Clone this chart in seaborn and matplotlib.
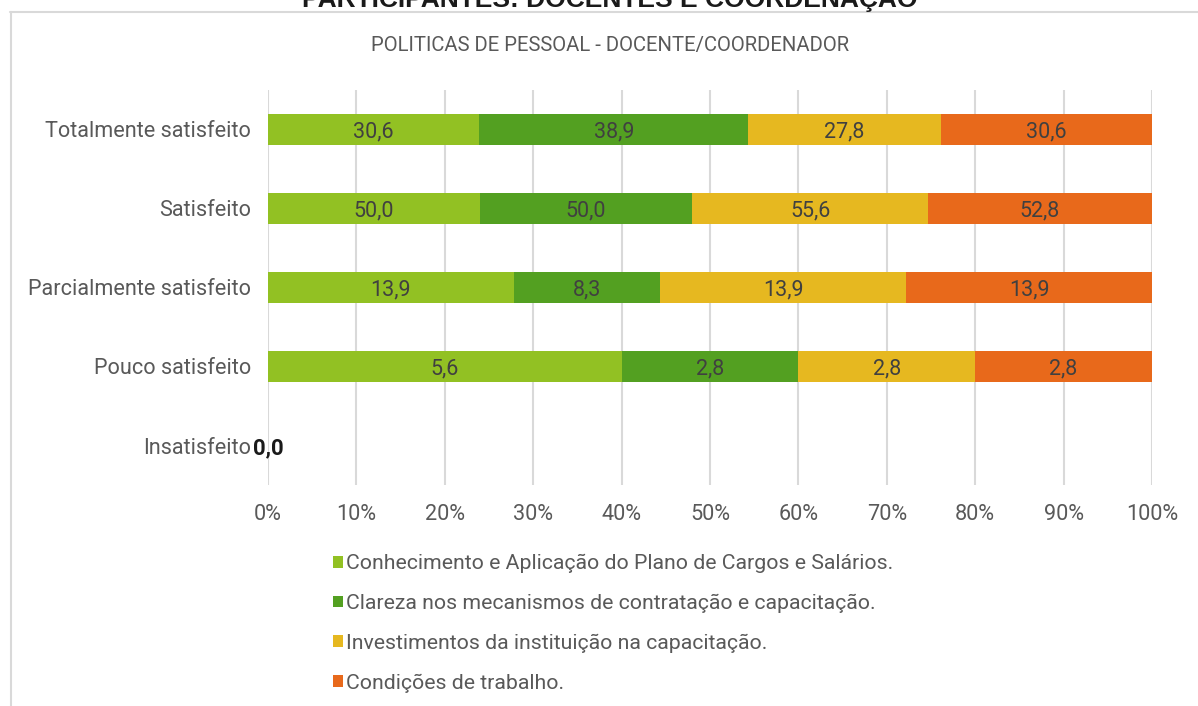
import numpy as np
import pandas as pd
import matplotlib
matplotlib.use("Agg")
import matplotlib.pyplot as plt
from matplotlib.patches import Patch
from matplotlib.lines import Line2D
import seaborn as sns

# dados
categorias = ["Totalmente satisfeito", "Satisfeito", "Parcialmente satisfeito",
              "Pouco satisfeito", "Insatisfeito"]
series = ["Conhecimento e Aplicação do Plano de Cargos e Salários.",
          "Clareza nos mecanismos de contratação e capacitação.",
          "Investimentos da instituição na capacitação.",
          "Condições de trabalho."]
plano_cargos = [30.6, 50.0, 13.9, 5.6, 0.0]
clareza = [38.9, 50.0, 8.3, 2.8, 0.0]
investimentos = [27.8, 55.6, 13.9, 2.8, 0.0]
condicoes = [30.6, 52.8, 13.9, 2.8, 0.0]
cores = ["#92C123", "#53A021", "#E6B820", "#E8691B"]

sns.set_style("white")
plt.rcParams["font.family"] = ["Roboto", "DejaVu Sans"]

df = pd.DataFrame({series[0]: plano_cargos, series[1]: clareza,
                   series[2]: investimentos, series[3]: condicoes},
                  index=categorias)
total = df.sum(axis=1).replace(0, np.nan)
pct = df.div(total, axis=0).fillna(0) * 100
cum = pct.cumsum(axis=1)

fig = plt.figure(figsize=(11.98, 7.06), dpi=100)
ax = fig.add_axes([268 / 1198, 1 - 485 / 706, (1152 - 268) / 1198, (485 - 90) / 706])

# barras empilhadas: desenha os acumulados do maior para o menor
for i in range(len(series) - 1, -1, -1):
    plot_df = pd.DataFrame({"cat": categorias, "val": cum.iloc[:, i].values})
    sns.barplot(data=plot_df, x="val", y="cat", orient="h", color=cores[i],
                width=0.4, saturation=1, linewidth=0, ax=ax, zorder=3)

# rótulos dos valores
for j, cat in enumerate(categorias):
    for i, s in enumerate(series):
        w = pct.loc[cat, s]
        if w <= 0:
            continue
        centro = cum.loc[cat, s] - w / 2
        ax.text(centro, j, f"{df.loc[cat, s]:.1f}".replace(".", ","),
                ha="center", va="center_baseline", fontsize=15.5, color="#404040", zorder=4)
ax.text(0, 4, "0,0", ha="center", va="center_baseline", fontsize=16, fontweight="bold",
        color="#1a1a1a", zorder=4)

ax.set_xlim(0, 100)
ax.set_ylim(4.5, -0.5)
ax.set_xticks(np.arange(0, 101, 10))
ax.set_xticklabels([f"{v}%" for v in range(0, 101, 10)])
ax.set_xlabel("")
ax.set_ylabel("")
ax.grid(axis="x", color="#D9D9D9", linewidth=1.5, zorder=0)
ax.grid(axis="y", visible=False)
for sp in ax.spines.values():
    sp.set_visible(False)
ax.tick_params(axis="both", length=0, labelsize=15.6, colors="#595959")
ax.tick_params(axis="x", pad=14)
ax.tick_params(axis="y", pad=12)

# títulos
fig.text(610 / 1198, 1 - 7 / 706, "PARTICIPANTES: DOCENTES E COORDENAÇÃO",
         ha="center", va="baseline", fontsize=19, fontweight="bold",
         family=["Liberation Sans", "DejaVu Sans"], color="#1a1a1a")
fig.text(610 / 1198, 1 - 46 / 706, "POLITICAS DE PESSOAL - DOCENTE/COORDENADOR",
         ha="center", va="center", fontsize=14.6, color="#595959")

# moldura do gráfico
fig.add_artist(Line2D([10.5 / 1198, 10.5 / 1198], [0, 1 - 12 / 706],
                      transform=fig.transFigure, color="#D9D9D9", linewidth=1.5))
fig.add_artist(Line2D([10 / 1198, 1], [1 - 12 / 706, 1 - 12 / 706],
                      transform=fig.transFigure, color="#D9D9D9", linewidth=1.5))

handles = [Patch(facecolor=c, edgecolor="none") for c in cores]
fig.legend(handles, series, loc="upper left", bbox_to_anchor=(314 / 1198, 1 - 535 / 706),
           frameon=False, fontsize=15.3, labelcolor="#595959", handlelength=0.47,
           handleheight=0.47, handletextpad=0.15, labelspacing=0.97)

fig.savefig("out.png", dpi=100)
